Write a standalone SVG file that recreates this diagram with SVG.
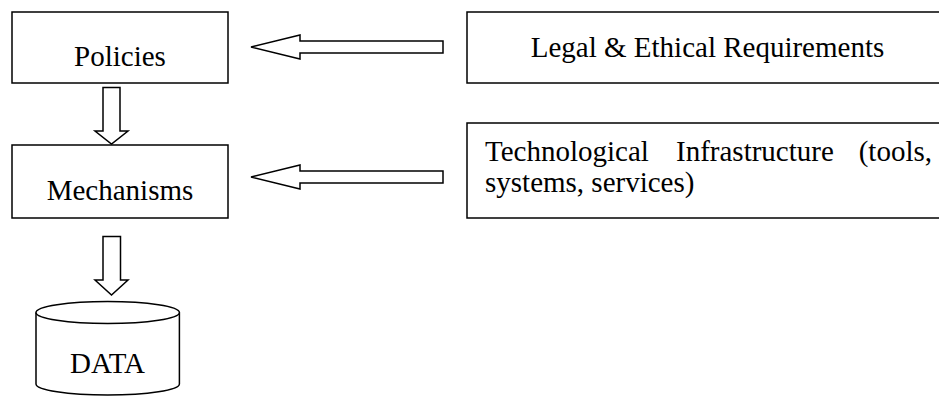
<svg xmlns="http://www.w3.org/2000/svg" width="939" height="396" viewBox="0 0 939 396">
  <style>
    .box { fill: #fff; stroke: #000; stroke-width: 1.5; }
    .arrow { fill: #fff; stroke: #000; stroke-width: 1.5; stroke-linejoin: miter; }
    .label { font-family: "Liberation Serif", "Times New Roman", serif; font-size: 29px; fill: #000; }
    .mid { text-anchor: middle; }
  </style>
  <rect width="939" height="396" fill="#fff"/>

  <!-- block arrows between the boxes -->
  <g id="connectors">
    <polygon class="arrow" points="251,47 300,35 300,41 443,41 443,53 300,53 300,59"/>
    <polygon class="arrow" points="251,177 300,165 300,171 443,171 443,183 300,183 300,189"/>
    <polygon class="arrow" points="103,87.5 120,87.5 120,131 128,131 111.5,144 95,131 103,131"/>
    <polygon class="arrow" points="103,236.5 120.5,236.5 120.5,280 128,280 111.5,295 95,280 103,280"/>
  </g>

  <g id="policies">
    <rect class="box" x="12" y="12" width="216" height="71"/>
    <text class="label mid" x="120" y="66">Policies</text>
  </g>

  <g id="mechanisms">
    <rect class="box" x="12" y="145" width="216" height="73"/>
    <text class="label mid" x="120" y="200">Mechanisms</text>
  </g>

  <g id="legal">
    <rect class="box" x="467" y="12" width="480" height="71"/>
    <text class="label mid" x="707.5" y="57">Legal &amp; Ethical Requirements</text>
  </g>

  <g id="technology">
    <rect class="box" x="467" y="123" width="480" height="95"/>
    <text class="label" x="485" y="161">Technological</text>
    <text class="label" x="676" y="161">Infrastructure</text>
    <text class="label" x="932" y="161" text-anchor="end">(tools,</text>
    <text class="label" x="485" y="192">systems, services)</text>
  </g>

  <g id="data">
    <path class="box" d="M36,312.5 L36,384 A71.7,11 0 0 0 179.4,384 L179.4,312.5"/>
    <ellipse class="box" cx="107.7" cy="312.5" rx="71.7" ry="11"/>
    <text class="label mid" x="107.5" y="373">DATA</text>
  </g>
</svg>
